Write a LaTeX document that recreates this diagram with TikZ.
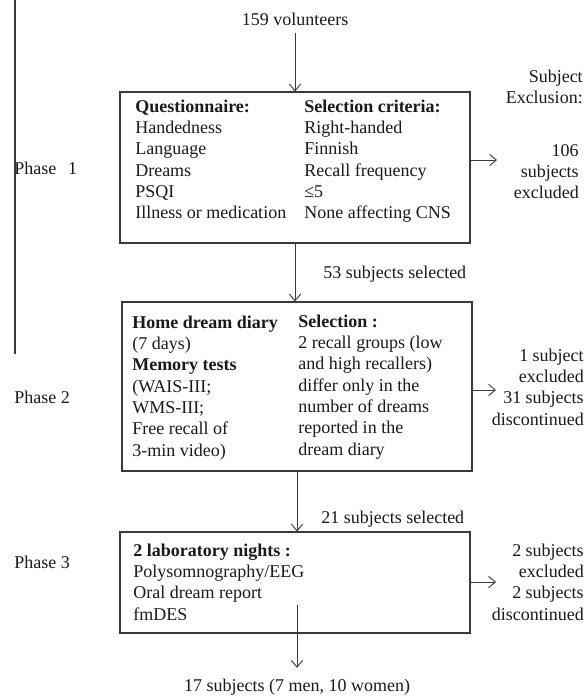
\documentclass[tikz,border=0pt]{standalone}
\usepackage{fontspec}
\setmainfont{Liberation Serif}
\usetikzlibrary{arrows.meta}
\definecolor{linegray}{HTML}{3A3A3A}
\definecolor{txt}{HTML}{1A1A1A}
\begin{document}
\begin{tikzpicture}[x=0.75pt,y=-0.75pt,
  every node/.style={font=\fontsize{13.5}{16}\selectfont, text=txt, inner sep=0pt},
  boxnode/.style={draw=linegray, line width=0.8pt, rectangle, minimum width=262.5pt, inner sep=0pt},
  arr/.style={draw=linegray, line width=0.7pt, -{Straight Barb[length=5pt,width=8.5pt]}},
  col/.style={anchor=north west, align=left},
  rcol/.style={anchor=north east, align=right},
  lbl/.style={anchor=base west}
]
\useasboundingbox (0,0) rectangle (584,698);

% phase bar
\coordinate (barTop) at (15,0);
\coordinate (barBot) at (15,354);
\draw[linegray, line width=0.8pt] (barTop) -- (barBot);

% top text
\node[anchor=base, inner ysep=0.5pt] (vol) at (295,26) {\strut 159 volunteers};

% header right
\node[rcol] (subjexcl) at (583,67) {\strut Subject\\\strut Exclusion:};

% Box 1
\node[boxnode, minimum height=113.25pt] (box1) at (295,167.5) {};
\node[col] (b1c1) at (135,97) {\strut\textbf{Questionnaire:}\\\strut Handedness\\\strut Language\\\strut Dreams\\\strut PSQI\\\strut Illness or medication};
\node[col] (b1c2) at (304,97) {\strut\textbf{Selection criteria:}\\\strut Right-handed\\\strut Finnish\\\strut Recall frequency\\\strut ≤5\\\strut None affecting CNS};
\node[lbl] (ph1) at (14,175) {Phase\hspace{9pt}1};
\coordinate (ex1) at (497,160);
\node[rcol] (ex1t) at (579,141) {\strut 106\\\strut subjects\\\strut excluded};

% Box 2
\node[boxnode, minimum height=126.75pt] (box2) at (297,386.5) {};
\node[col] (b2c1) at (132,313) {\strut\textbf{Home dream diary}\\\strut (7 days)\\\strut\textbf{Memory tests}\\\strut (WAIS-III;\\\strut WMS-III;\\\strut Free recall of\\\strut 3-min video)};
\node[col] (b2c2) at (298,312) {\strut\textbf{Selection :}\\\strut 2 recall groups (low\\\strut and high recallers)\\\strut differ only in the\\\strut number of dreams\\\strut reported in the\\\strut dream diary};
\node[lbl] (ph2) at (14,403) {Phase 2};
\coordinate (ex2) at (496,390);
\node[rcol] (ex2t) at (584,346) {\strut 1 subject\\\strut excluded\\\strut 31 subjects\\\strut discontinued};
\node[lbl] (sel53) at (323,278) {53 subjects selected};

% Box 3
\node[boxnode, minimum height=75.75pt] (box3) at (295,582.5) {};
\node[col] (b3c1) at (133,541) {\strut\textbf{2 laboratory nights :}\\\strut Polysomnography/EEG\\\strut Oral dream report\\\strut fmDES};
\node[lbl] (ph3) at (14,568) {Phase 3};
\coordinate (ex3) at (496,582);
\node[rcol] (ex3t) at (584,541) {\strut 2 subjects\\\strut excluded\\\strut 2 subjects\\\strut discontinued};
\node[lbl] (sel21) at (321,523) {21 subjects selected};

% final
\coordinate (a4s) at (297,605);
\node[anchor=base, inner ysep=6pt] (final) at (297,691) {\strut 17 subjects (7 men, 10 women)};

% connectors
\draw[arr] (vol.south) -- (vol.south |- box1.north);
\draw[arr] (box1.south -| vol.south) -- (vol.south |- box2.north);
\draw[arr] (box2.south) -- (box2.south |- box3.north);
\draw[arr] (a4s) -- (a4s |- final.north);
\draw[arr] (box1.east |- ex1) -- (ex1);
\draw[arr] (box2.east |- ex2) -- (ex2);
\draw[arr] (box3.east |- ex3) -- (ex3);
\end{tikzpicture}
\end{document}
